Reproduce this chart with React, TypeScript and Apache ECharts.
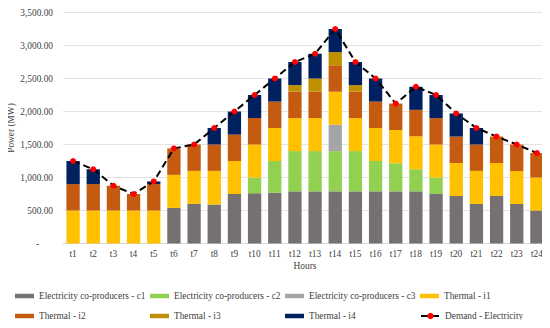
import React, { useEffect, useRef } from "react";
import * as echarts from "echarts";

const hours = ["t1","t2","t3","t4","t5","t6","t7","t8","t9","t10","t11","t12","t13","t14","t15","t16","t17","t18","t19","t20","t21","t22","t23","t24"];
const coC1 = [0,0,0,0,0,540,600,590,750,760,770,790,790,790,790,790,790,790,750,720,600,720,600,500];
const coC2 = [0,0,0,0,0,0,0,0,0,240,480,610,610,610,610,460,425,335,250,0,0,0,0,0];
const coC3 = [0,0,0,0,0,0,0,0,0,0,0,0,0,400,0,0,0,0,0,0,0,0,0,0];
const thI1 = [500,500,500,500,500,500,500,510,500,500,500,500,500,500,500,500,505,500,500,500,500,500,500,500];
const thI2 = [400,400,375,250,400,400,400,400,400,400,400,400,400,400,400,400,400,400,400,400,400,400,400,370];
const thI3 = [0,0,0,0,0,0,0,0,0,0,0,100,200,200,100,0,0,0,0,0,0,0,0,0];
const thI4 = [350,225,0,0,40,0,0,250,350,350,350,350,375,350,350,350,0,350,350,350,250,0,0,0];
const demand = [1250,1125,875,750,940,1440,1500,1750,2000,2250,2500,2750,2875,3250,2750,2500,2120,2375,2250,1970,1750,1620,1500,1370];
const yTicks = { min: 0, max: 3500, interval: 500 };

const barSeries = [
  { name: "Electricity co-producers - c1", data: coC1, color: "#767171" },
  { name: "Electricity co-producers - c2", data: coC2, color: "#92D050" },
  { name: "Electricity co-producers - c3", data: coC3, color: "#A5A5A5" },
  { name: "Thermal - i1", data: thI1, color: "#FFC000" },
  { name: "Thermal - i2", data: thI2, color: "#C55A11" },
  { name: "Thermal - i3", data: thI3, color: "#BF9000" },
  { name: "Thermal - i4", data: thI4, color: "#002060" },
];
const demandName = "Demand - Electricity";

const FONT = "Liberation Serif";
const FS = 9.33;
const TXT = "#404040";

export default function App() {
  const ref = useRef<HTMLDivElement>(null);
  useEffect(() => {
    if (!ref.current) return;
    const chart = echarts.init(ref.current, undefined, { renderer: "svg" });
    const legendNames = [...barSeries.map((s) => s.name), demandName];
    const colX = [15, 150, 285, 420];
    const legends = legendNames.map((n, i) => ({
      data: [n],
      left: colX[i % 4],
      top: i < 4 ? 291.5 : 311.5,
      itemWidth: 19,
      itemHeight: n === demandName ? 8 : 4.5,
      itemGap: 0,
      padding: 0,
      icon: n === demandName ? undefined : "rect",
      textStyle: { fontFamily: FONT, fontSize: FS, color: TXT },
      selectedMode: false,
    }));
    chart.setOption({
      animation: false,
      textStyle: { fontFamily: FONT },
      grid: { left: 63, right: 3, top: 12.5, bottom: 84.5, containLabel: false, outerBoundsMode: "none" },
      legend: legends,
      xAxis: {
        type: "category",
        data: hours,
        name: "Hours",
        nameLocation: "middle",
        nameGap: 18,
        nameMoveOverlap: false,
        nameTextStyle: { fontFamily: FONT, fontSize: FS, color: TXT },
        axisTick: { show: false },
        axisLine: { lineStyle: { color: "#D9D9D9" } },
        axisLabel: { fontFamily: FONT, fontSize: FS, color: TXT, margin: 6 },
      },
      yAxis: {
        type: "value",
        min: yTicks.min,
        max: yTicks.max,
        interval: yTicks.interval,
        name: "Power (MW)",
        nameLocation: "middle",
        nameGap: 48,
        nameMoveOverlap: false,
        nameTextStyle: { fontFamily: FONT, fontSize: FS, color: TXT },
        axisLine: { show: false },
        axisTick: { show: false },
        splitLine: { lineStyle: { color: "#E4E4E4", width: 1 } },
        axisLabel: {
          fontFamily: FONT,
          fontSize: FS,
          color: TXT,
          margin: 10,
          formatter: (v: number) =>
            v === 0 ? "-      " : v.toLocaleString("en-US", { minimumFractionDigits: 2, maximumFractionDigits: 2 }),
        },
      },
      series: [
        ...barSeries.map((s) => ({
          name: s.name,
          type: "bar",
          stack: "total",
          data: s.data,
          barCategoryGap: "34%",
          itemStyle: { color: s.color },
        })),
        {
          name: demandName,
          type: "line",
          data: demand,
          symbol: "circle",
          symbolSize: 6,
          itemStyle: { color: "#FF0000" },
          lineStyle: { color: "#000000", width: 2, type: [7, 4] },
          z: 10,
        },
      ],
    });
    return () => chart.dispose();
  }, []);
  return <div ref={ref} style={{ width: 550, height: 328, margin: -8 }} />;
}
